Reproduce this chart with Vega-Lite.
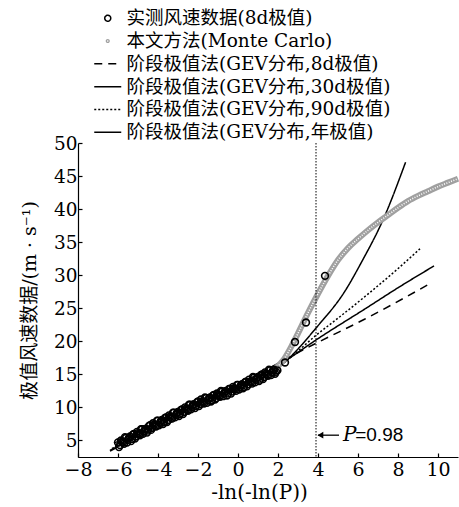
{
  "$schema": "https://vega.github.io/schema/vega-lite/v6.json",
  "width": 380,
  "height": 314,
  "autosize": {"type": "none"},
  "padding": {"left": 78, "top": 143, "right": 1, "bottom": 50},
  "config": {
    "view": {"stroke": null},
    "axis": {
      "grid": false,
      "domainColor": "black",
      "tickColor": "black",
      "labelColor": "black",
      "titleColor": "black",
      "domainWidth": 1.2,
      "tickWidth": 1.2,
      "tickSize": -4,
      "labelOverlap": false,
      "labelFont": "DejaVu Serif",
      "labelFontSize": 19,
      "titleFont": "DejaVu Serif, Noto Sans CJK SC",
      "titleFontSize": 19,
      "titleFontWeight": "normal"
    },
    "axisY": {"labelOverlap": false, "labelBound": false, "labelSeparation": 0},
    "legend": {
      "orient": "none",
      "legendX": 20.5,
      "legendY": -134,
      "padding": 0,
      "labelFont": "DejaVu Serif, Noto Sans CJK SC",
      "labelFontSize": 18.5,
      "labelColor": "black",
      "labelLimit": 0,
      "labelOffset": 9.5,
      "rowPadding": 3.8,
      "symbolSize": 36,
      "symbolStrokeWidth": 1.5,
      "symbolFillColor": "transparent"
    }
  },
  "datasets": {
    "obs": [
      {"s": "实测风速数据(8d极值)", "x": -6.0, "y": 4.7}, {"s": "实测风速数据(8d极值)", "x": -5.9, "y": 4.3},
      {"s": "实测风速数据(8d极值)", "x": -5.8, "y": 4.8}, {"s": "实测风速数据(8d极值)", "x": -5.7, "y": 4.5},
      {"s": "实测风速数据(8d极值)", "x": -5.6, "y": 5.4}, {"s": "实测风速数据(8d极值)", "x": -5.5, "y": 5.1},
      {"s": "实测风速数据(8d极值)", "x": -5.4, "y": 5.6}, {"s": "实测风速数据(8d极值)", "x": -5.3, "y": 5.2},
      {"s": "实测风速数据(8d极值)", "x": -5.2, "y": 6.0}, {"s": "实测风速数据(8d极值)", "x": -5.1, "y": 5.6},
      {"s": "实测风速数据(8d极值)", "x": -5.0, "y": 6.1}, {"s": "实测风速数据(8d极值)", "x": -4.9, "y": 5.8},
      {"s": "实测风速数据(8d极值)", "x": -4.8, "y": 6.7}, {"s": "实测风速数据(8d极值)", "x": -4.7, "y": 6.4},
      {"s": "实测风速数据(8d极值)", "x": -4.6, "y": 6.8}, {"s": "实测风速数据(8d极值)", "x": -4.5, "y": 6.5},
      {"s": "实测风速数据(8d极值)", "x": -4.4, "y": 7.3}, {"s": "实测风速数据(8d极值)", "x": -4.3, "y": 6.9},
      {"s": "实测风速数据(8d极值)", "x": -4.2, "y": 7.4}, {"s": "实测风速数据(8d极值)", "x": -4.1, "y": 7.1},
      {"s": "实测风速数据(8d极值)", "x": -4.0, "y": 8.0}, {"s": "实测风速数据(8d极值)", "x": -3.9, "y": 7.7},
      {"s": "实测风速数据(8d极值)", "x": -3.8, "y": 8.1}, {"s": "实测风速数据(8d极值)", "x": -3.7, "y": 7.8},
      {"s": "实测风速数据(8d极值)", "x": -3.6, "y": 8.5}, {"s": "实测风速数据(8d极值)", "x": -3.5, "y": 8.1},
      {"s": "实测风速数据(8d极值)", "x": -3.4, "y": 8.6}, {"s": "实测风速数据(8d极值)", "x": -3.3, "y": 8.3},
      {"s": "实测风速数据(8d极值)", "x": -3.2, "y": 9.2}, {"s": "实测风速数据(8d极值)", "x": -3.1, "y": 8.9},
      {"s": "实测风速数据(8d极值)", "x": -3.0, "y": 9.3}, {"s": "实测风速数据(8d极值)", "x": -2.9, "y": 9.0},
      {"s": "实测风速数据(8d极值)", "x": -2.8, "y": 9.7}, {"s": "实测风速数据(8d极值)", "x": -2.7, "y": 9.3},
      {"s": "实测风速数据(8d极值)", "x": -2.6, "y": 9.8}, {"s": "实测风速数据(8d极值)", "x": -2.5, "y": 9.5},
      {"s": "实测风速数据(8d极值)", "x": -2.4, "y": 10.4}, {"s": "实测风速数据(8d极值)", "x": -2.3, "y": 10.1},
      {"s": "实测风速数据(8d极值)", "x": -2.2, "y": 10.5}, {"s": "实测风速数据(8d极值)", "x": -2.1, "y": 10.2},
      {"s": "实测风速数据(8d极值)", "x": -2.0, "y": 10.9}, {"s": "实测风速数据(8d极值)", "x": -1.9, "y": 10.5},
      {"s": "实测风速数据(8d极值)", "x": -1.8, "y": 10.9}, {"s": "实测风速数据(8d极值)", "x": -1.7, "y": 10.6},
      {"s": "实测风速数据(8d极值)", "x": -1.6, "y": 11.4}, {"s": "实测风速数据(8d极值)", "x": -1.5, "y": 11.1},
      {"s": "实测风速数据(8d极值)", "x": -1.4, "y": 11.5}, {"s": "实测风速数据(8d极值)", "x": -1.3, "y": 11.1},
      {"s": "实测风速数据(8d极值)", "x": -1.2, "y": 11.9}, {"s": "实测风速数据(8d极值)", "x": -1.1, "y": 11.4},
      {"s": "实测风速数据(8d极值)", "x": -1.0, "y": 11.9}, {"s": "实测风速数据(8d极值)", "x": -0.9, "y": 11.6},
      {"s": "实测风速数据(8d极值)", "x": -0.8, "y": 12.4}, {"s": "实测风速数据(8d极值)", "x": -0.7, "y": 12.1},
      {"s": "实测风速数据(8d极值)", "x": -0.6, "y": 12.5}, {"s": "实测风速数据(8d极值)", "x": -0.5, "y": 12.1},
      {"s": "实测风速数据(8d极值)", "x": -0.4, "y": 12.8}, {"s": "实测风速数据(8d极值)", "x": -0.3, "y": 12.4},
      {"s": "实测风速数据(8d极值)", "x": -0.2, "y": 12.9}, {"s": "实测风速数据(8d极值)", "x": -0.1, "y": 12.5},
      {"s": "实测风速数据(8d极值)", "x": 0.0, "y": 13.4}, {"s": "实测风速数据(8d极值)", "x": 0.1, "y": 13.0},
      {"s": "实测风速数据(8d极值)", "x": 0.2, "y": 13.5}, {"s": "实测风速数据(8d极值)", "x": 0.3, "y": 13.1},
      {"s": "实测风速数据(8d极值)", "x": 0.4, "y": 13.9}, {"s": "实测风速数据(8d极值)", "x": 0.5, "y": 13.5},
      {"s": "实测风速数据(8d极值)", "x": 0.6, "y": 13.9}, {"s": "实测风速数据(8d极值)", "x": 0.7, "y": 13.6},
      {"s": "实测风速数据(8d极值)", "x": 0.8, "y": 14.5}, {"s": "实测风速数据(8d极值)", "x": 0.9, "y": 14.2},
      {"s": "实测风速数据(8d极值)", "x": 1.0, "y": 14.6}, {"s": "实测风速数据(8d极值)", "x": 1.1, "y": 14.2},
      {"s": "实测风速数据(8d极值)", "x": 1.2, "y": 15.0}, {"s": "实测风速数据(8d极值)", "x": 1.3, "y": 14.6},
      {"s": "实测风速数据(8d极值)", "x": 1.4, "y": 15.1}, {"s": "实测风速数据(8d极值)", "x": 1.5, "y": 14.8},
      {"s": "实测风速数据(8d极值)", "x": 1.6, "y": 15.6}, {"s": "实测风速数据(8d极值)", "x": 1.7, "y": 15.3},
      {"s": "实测风速数据(8d极值)", "x": 1.8, "y": 15.7}, {"s": "实测风速数据(8d极值)", "x": 1.9, "y": 15.4},
      {"s": "实测风速数据(8d极值)", "x": -5.95, "y": 4.0}, {"s": "实测风速数据(8d极值)", "x": -5.85, "y": 5.0},
      {"s": "实测风速数据(8d极值)", "x": -5.75, "y": 4.7}, {"s": "实测风速数据(8d极值)", "x": -5.65, "y": 5.5},
      {"s": "实测风速数据(8d极值)", "x": -5.55, "y": 4.7}, {"s": "实测风速数据(8d极值)", "x": -5.45, "y": 5.4},
      {"s": "实测风速数据(8d极值)", "x": -5.35, "y": 4.9}, {"s": "实测风速数据(8d极值)", "x": -5.25, "y": 5.9},
      {"s": "实测风速数据(8d极值)", "x": -5.15, "y": 5.3}, {"s": "实测风速数据(8d极值)", "x": -5.05, "y": 6.3},
      {"s": "实测风速数据(8d极值)", "x": -4.95, "y": 5.9}, {"s": "实测风速数据(8d极值)", "x": -4.85, "y": 6.7},
      {"s": "实测风速数据(8d极值)", "x": -4.75, "y": 6.0}, {"s": "实测风速数据(8d极值)", "x": -4.65, "y": 6.7},
      {"s": "实测风速数据(8d极值)", "x": -4.55, "y": 6.2}, {"s": "实测风速数据(8d极值)", "x": -4.45, "y": 7.2},
      {"s": "实测风速数据(8d极值)", "x": -4.35, "y": 6.6}, {"s": "实测风速数据(8d极值)", "x": -4.25, "y": 7.6},
      {"s": "实测风速数据(8d极值)", "x": -4.15, "y": 7.2}, {"s": "实测风速数据(8d极值)", "x": -4.05, "y": 8.0},
      {"s": "实测风速数据(8d极值)", "x": -3.95, "y": 7.3}, {"s": "实测风速数据(8d极值)", "x": -3.85, "y": 8.0},
      {"s": "实测风速数据(8d极值)", "x": -3.75, "y": 7.5}, {"s": "实测风速数据(8d极值)", "x": -3.65, "y": 8.4},
      {"s": "实测风速数据(8d极值)", "x": -3.55, "y": 7.8}, {"s": "实测风速数据(8d极值)", "x": -3.45, "y": 8.8},
      {"s": "实测风速数据(8d极值)", "x": -3.35, "y": 8.4}, {"s": "实测风速数据(8d极值)", "x": -3.25, "y": 9.2},
      {"s": "实测风速数据(8d极值)", "x": -3.15, "y": 8.5}, {"s": "实测风速数据(8d极值)", "x": -3.05, "y": 9.2},
      {"s": "实测风速数据(8d极值)", "x": -2.95, "y": 8.7}, {"s": "实测风速数据(8d极值)", "x": -2.85, "y": 9.6},
      {"s": "实测风速数据(8d极值)", "x": -2.75, "y": 9.0}, {"s": "实测风速数据(8d极值)", "x": -2.65, "y": 10.0},
      {"s": "实测风速数据(8d极值)", "x": -2.55, "y": 9.6}, {"s": "实测风速数据(8d极值)", "x": -2.45, "y": 10.4},
      {"s": "实测风速数据(8d极值)", "x": -2.35, "y": 9.7}, {"s": "实测风速数据(8d极值)", "x": -2.25, "y": 10.4},
      {"s": "实测风速数据(8d极值)", "x": -2.15, "y": 9.9}, {"s": "实测风速数据(8d极值)", "x": -2.05, "y": 10.8},
      {"s": "实测风速数据(8d极值)", "x": -1.95, "y": 10.2}, {"s": "实测风速数据(8d极值)", "x": -1.85, "y": 11.2},
      {"s": "实测风速数据(8d极值)", "x": -1.75, "y": 10.8}, {"s": "实测风速数据(8d极值)", "x": -1.65, "y": 11.5},
      {"s": "实测风速数据(8d极值)", "x": -1.55, "y": 10.7}, {"s": "实测风速数据(8d极值)", "x": -1.45, "y": 11.4},
      {"s": "实测风速数据(8d极值)", "x": -1.35, "y": 10.9}, {"s": "实测风速数据(8d极值)", "x": -1.25, "y": 11.8},
      {"s": "实测风速数据(8d极值)", "x": -1.15, "y": 11.2}, {"s": "实测风速数据(8d极值)", "x": -1.05, "y": 12.1},
      {"s": "实测风速数据(8d极值)", "x": -0.95, "y": 11.7}, {"s": "实测风速数据(8d极值)", "x": -0.85, "y": 12.5},
      {"s": "实测风速数据(8d极值)", "x": -0.75, "y": 11.7}, {"s": "实测风速数据(8d极值)", "x": -0.65, "y": 12.4},
      {"s": "实测风速数据(8d极值)", "x": -0.55, "y": 11.8}, {"s": "实测风速数据(8d极值)", "x": -0.45, "y": 12.8},
      {"s": "实测风速数据(8d极值)", "x": -0.35, "y": 12.1}, {"s": "实测风速数据(8d极值)", "x": -0.25, "y": 13.1},
      {"s": "实测风速数据(8d极值)", "x": -0.15, "y": 12.7}, {"s": "实测风速数据(8d极值)", "x": -0.05, "y": 13.4},
      {"s": "实测风速数据(8d极值)", "x": 0.05, "y": 12.7}, {"s": "实测风速数据(8d极值)", "x": 0.15, "y": 13.4},
      {"s": "实测风速数据(8d极值)", "x": 0.25, "y": 12.9}, {"s": "实测风速数据(8d极值)", "x": 0.35, "y": 13.8},
      {"s": "实测风速数据(8d极值)", "x": 0.45, "y": 13.2}, {"s": "实测风速数据(8d极值)", "x": 0.55, "y": 14.2},
      {"s": "实测风速数据(8d极值)", "x": 0.65, "y": 13.8}, {"s": "实测风速数据(8d极值)", "x": 0.75, "y": 14.6},
      {"s": "实测风速数据(8d极值)", "x": 0.85, "y": 13.8}, {"s": "实测风速数据(8d极值)", "x": 0.95, "y": 14.5},
      {"s": "实测风速数据(8d极值)", "x": 1.05, "y": 14.0}, {"s": "实测风速数据(8d极值)", "x": 1.15, "y": 14.9},
      {"s": "实测风速数据(8d极值)", "x": 1.25, "y": 14.3}, {"s": "实测风速数据(8d极值)", "x": 1.35, "y": 15.3},
      {"s": "实测风速数据(8d极值)", "x": 1.45, "y": 14.9}, {"s": "实测风速数据(8d极值)", "x": 1.55, "y": 15.7},
      {"s": "实测风速数据(8d极值)", "x": 1.65, "y": 14.9}, {"s": "实测风速数据(8d极值)", "x": 1.75, "y": 15.6},
      {"s": "实测风速数据(8d极值)", "x": 1.85, "y": 15.1},
      {"s": "实测风速数据(8d极值)", "x": 1.97, "y": 15.6}, {"s": "实测风速数据(8d极值)", "x": 2.35, "y": 16.8},
      {"s": "实测风速数据(8d极值)", "x": 2.85, "y": 19.9}, {"s": "实测风速数据(8d极值)", "x": 3.4, "y": 22.85},
      {"s": "实测风速数据(8d极值)", "x": 4.35, "y": 29.9}
    ],
    "mc": [
      {"s": "本文方法(Monte Carlo)", "x": -6.0, "y": 4.4}, {"s": "本文方法(Monte Carlo)", "x": -4.0, "y": 7.6},
      {"s": "本文方法(Monte Carlo)", "x": -2.0, "y": 10.6}, {"s": "本文方法(Monte Carlo)", "x": 0.0, "y": 13.0},
      {"s": "本文方法(Monte Carlo)", "x": 1.0, "y": 14.4}, {"s": "本文方法(Monte Carlo)", "x": 1.8, "y": 15.7},
      {"s": "本文方法(Monte Carlo)", "x": 2.3, "y": 17.3}, {"s": "本文方法(Monte Carlo)", "x": 2.7, "y": 19.4},
      {"s": "本文方法(Monte Carlo)", "x": 3.0, "y": 21.2},
      {"s": "本文方法(Monte Carlo)", "x": 3.5, "y": 24.3}, {"s": "本文方法(Monte Carlo)", "x": 4.0, "y": 27.2},
      {"s": "本文方法(Monte Carlo)", "x": 4.5, "y": 29.9}, {"s": "本文方法(Monte Carlo)", "x": 5.0, "y": 32.3},
      {"s": "本文方法(Monte Carlo)", "x": 5.5, "y": 34.1}, {"s": "本文方法(Monte Carlo)", "x": 6.0, "y": 35.5},
      {"s": "本文方法(Monte Carlo)", "x": 6.5, "y": 36.8}, {"s": "本文方法(Monte Carlo)", "x": 7.0, "y": 38.0},
      {"s": "本文方法(Monte Carlo)", "x": 7.5, "y": 39.1}, {"s": "本文方法(Monte Carlo)", "x": 8.0, "y": 40.2},
      {"s": "本文方法(Monte Carlo)", "x": 8.5, "y": 41.2}, {"s": "本文方法(Monte Carlo)", "x": 9.0, "y": 42.0},
      {"s": "本文方法(Monte Carlo)", "x": 9.5, "y": 42.7}, {"s": "本文方法(Monte Carlo)", "x": 10.0, "y": 43.4},
      {"s": "本文方法(Monte Carlo)", "x": 10.5, "y": 44.0}, {"s": "本文方法(Monte Carlo)", "x": 11.0, "y": 44.6}
    ],
    "gev": [
      {"s": "阶段极值法(GEV分布,8d极值)", "x": -6.4, "y": 3.4},
      {"s": "阶段极值法(GEV分布,8d极值)", "x": 0.0, "y": 13.4},
      {"s": "阶段极值法(GEV分布,8d极值)", "x": 3.9, "y": 19.7},
      {"s": "阶段极值法(GEV分布,8d极值)", "x": 6.3, "y": 23.3},
      {"s": "阶段极值法(GEV分布,8d极值)", "x": 9.7, "y": 28.9},
      {"s": "阶段极值法(GEV分布,30d极值)", "x": -6.4, "y": 3.5},
      {"s": "阶段极值法(GEV分布,30d极值)", "x": -4.0, "y": 7.3},
      {"s": "阶段极值法(GEV分布,30d极值)", "x": -2.0, "y": 10.4},
      {"s": "阶段极值法(GEV分布,30d极值)", "x": 0.0, "y": 13.2},
      {"s": "阶段极值法(GEV分布,30d极值)", "x": 2.0, "y": 16.3},
      {"s": "阶段极值法(GEV分布,30d极值)", "x": 2.6, "y": 17.5},
      {"s": "阶段极值法(GEV分布,30d极值)", "x": 3.9, "y": 20.2},
      {"s": "阶段极值法(GEV分布,30d极值)", "x": 6.4, "y": 25.0},
      {"s": "阶段极值法(GEV分布,30d极值)", "x": 8.0, "y": 28.1},
      {"s": "阶段极值法(GEV分布,30d极值)", "x": 9.8, "y": 31.4},
      {"s": "阶段极值法(GEV分布,90d极值)", "x": -6.3, "y": 3.8},
      {"s": "阶段极值法(GEV分布,90d极值)", "x": -4.0, "y": 6.8},
      {"s": "阶段极值法(GEV分布,90d极值)", "x": -2.0, "y": 9.9},
      {"s": "阶段极值法(GEV分布,90d极值)", "x": 0.0, "y": 12.9},
      {"s": "阶段极值法(GEV分布,90d极值)", "x": 2.0, "y": 16.1},
      {"s": "阶段极值法(GEV分布,90d极值)", "x": 2.6, "y": 17.5},
      {"s": "阶段极值法(GEV分布,90d极值)", "x": 3.9, "y": 20.9},
      {"s": "阶段极值法(GEV分布,90d极值)", "x": 5.0, "y": 23.5},
      {"s": "阶段极值法(GEV分布,90d极值)", "x": 6.6, "y": 27.4},
      {"s": "阶段极值法(GEV分布,90d极值)", "x": 8.0, "y": 31.0},
      {"s": "阶段极值法(GEV分布,90d极值)", "x": 9.1, "y": 34.0},
      {"s": "阶段极值法(GEV分布,年极值)", "x": -6.2, "y": 4.6},
      {"s": "阶段极值法(GEV分布,年极值)", "x": -4.0, "y": 7.5},
      {"s": "阶段极值法(GEV分布,年极值)", "x": -2.0, "y": 10.2},
      {"s": "阶段极值法(GEV分布,年极值)", "x": 0.0, "y": 12.7},
      {"s": "阶段极值法(GEV分布,年极值)", "x": 2.0, "y": 16.0},
      {"s": "阶段极值法(GEV分布,年极值)", "x": 2.6, "y": 17.6},
      {"s": "阶段极值法(GEV分布,年极值)", "x": 3.9, "y": 22.0},
      {"s": "阶段极值法(GEV分布,年极值)", "x": 5.35, "y": 27.6},
      {"s": "阶段极值法(GEV分布,年极值)", "x": 6.18, "y": 32.0},
      {"s": "阶段极值法(GEV分布,年极值)", "x": 7.27, "y": 38.5},
      {"s": "阶段极值法(GEV分布,年极值)", "x": 8.38, "y": 47.1}
    ],
    "vline": [{"x": 3.9}],
    "arrow": [{"x": 4.0, "x2": 5.05, "y": 5.8}],
    "head": [{"x": 4.12, "y": 5.8}],
    "ptext": [{"x": 5.25, "y": 5.8, "t": "P"}],
    "vtext": [{"x": 5.86, "y": 5.8, "t": "=0.98"}]
  },
  "layer": [
    {
      "data": {"name": "gev"},
      "mark": {"type": "line", "strokeWidth": 1.5, "interpolate": "monotone"},
      "encoding": {
        "x": {"field": "x", "type": "quantitative", "scale": {"domain": [-8, 11], "nice": false, "zero": false},
              "axis": {"values": [-8, -6, -4, -2, 0, 2, 4, 6, 8, 10], "title": "-ln(-ln(P))", "titleFontSize": 20, "labelFlush": false, "labelOverlap": false, "labelPadding": 7, "titleY": 35, "titleBaseline": "middle", "titleX": 181}},
        "y": {"field": "y", "type": "quantitative", "scale": {"domain": [2.5, 50], "nice": false, "zero": false},
              "axis": {"values": [5, 10, 15, 20, 25, 30, 35, 40, 45, 50], "tickCount": 10, "title": "极值风速数据/(m · s⁻¹)", "labelOverlap": false, "labelFontSize": 18.5, "labelPadding": 5, "titlePadding": 14}},
        "color": {"field": "s", "type": "nominal",
                  "scale": {"domain": ["实测风速数据(8d极值)", "本文方法(Monte Carlo)", "阶段极值法(GEV分布,8d极值)", "阶段极值法(GEV分布,30d极值)", "阶段极值法(GEV分布,90d极值)", "阶段极值法(GEV分布,年极值)"],
                            "range": ["#000000", "#a0a0a0", "#000000", "#000000", "#000000", "#000000"]},
                  "legend": {"title": null, "orient": "none", "legendX": 20.5, "legendY": -134, "symbolSize": 36,
                             "encode": {"symbols": {"update": {
                               "shape": {"signal": "datum.index < 2 ? 'circle' : 'stroke'"},
                               "size": {"signal": "datum.index == 0 ? 36 : datum.index == 1 ? 8 : 729"},
                               "strokeWidth": {"signal": "datum.index == 1 ? 1.3 : 1.5"}
                             }}}}},
        "strokeDash": {"field": "s", "type": "nominal",
                  "scale": {"domain": ["实测风速数据(8d极值)", "本文方法(Monte Carlo)", "阶段极值法(GEV分布,8d极值)", "阶段极值法(GEV分布,30d极值)", "阶段极值法(GEV分布,90d极值)", "阶段极值法(GEV分布,年极值)"],
                            "range": [[1, 0], [1, 0], [8, 6], [1, 0], [2, 2], [1, 0]]},
                  "legend": {"title": null}}
      }
    },
    {
      "data": {"name": "mc"},
      "mark": {"type": "line", "strokeWidth": 6, "interpolate": "monotone"},
      "encoding": {
        "x": {"field": "x", "type": "quantitative"},
        "y": {"field": "y", "type": "quantitative"},
        "color": {"field": "s", "type": "nominal"}
      }
    },
    {
      "data": {"name": "mc"},
      "mark": {"type": "line", "strokeWidth": 1.6, "color": "white", "strokeDash": [1, 1.5], "interpolate": "monotone"},
      "encoding": {
        "x": {"field": "x", "type": "quantitative"},
        "y": {"field": "y", "type": "quantitative"}
      }
    },
    {
      "data": {"name": "obs"},
      "mark": {"type": "point", "filled": false, "strokeWidth": 1.6, "size": 46, "opacity": 1},
      "encoding": {
        "x": {"field": "x", "type": "quantitative"},
        "y": {"field": "y", "type": "quantitative"},
        "color": {"field": "s", "type": "nominal"}
      }
    },
    {
      "data": {"name": "vline"},
      "mark": {"type": "rule", "color": "black", "strokeWidth": 1, "strokeDash": [1.5, 1.5]},
      "encoding": {"x": {"field": "x", "type": "quantitative"}}
    },
    {
      "data": {"name": "arrow"},
      "mark": {"type": "rule", "color": "black", "strokeWidth": 1.3},
      "encoding": {
        "x": {"field": "x", "type": "quantitative"},
        "x2": {"field": "x2"},
        "y": {"field": "y", "type": "quantitative"}
      }
    },
    {
      "data": {"name": "head"},
      "mark": {"type": "point", "shape": "triangle-left", "filled": true, "color": "black", "size": 45, "opacity": 1},
      "encoding": {
        "x": {"field": "x", "type": "quantitative"},
        "y": {"field": "y", "type": "quantitative"}
      }
    },
    {
      "data": {"name": "ptext"},
      "mark": {"type": "text", "align": "left", "baseline": "middle", "font": "DejaVu Serif", "fontStyle": "italic", "fontSize": 20, "color": "black"},
      "encoding": {
        "x": {"field": "x", "type": "quantitative"},
        "y": {"field": "y", "type": "quantitative"},
        "text": {"field": "t"}
      }
    },
    {
      "data": {"name": "vtext"},
      "mark": {"type": "text", "align": "left", "baseline": "middle", "font": "Liberation Sans", "fontSize": 19, "color": "black"},
      "encoding": {
        "x": {"field": "x", "type": "quantitative"},
        "y": {"field": "y", "type": "quantitative"},
        "text": {"field": "t"}
      }
    }
  ]
}
